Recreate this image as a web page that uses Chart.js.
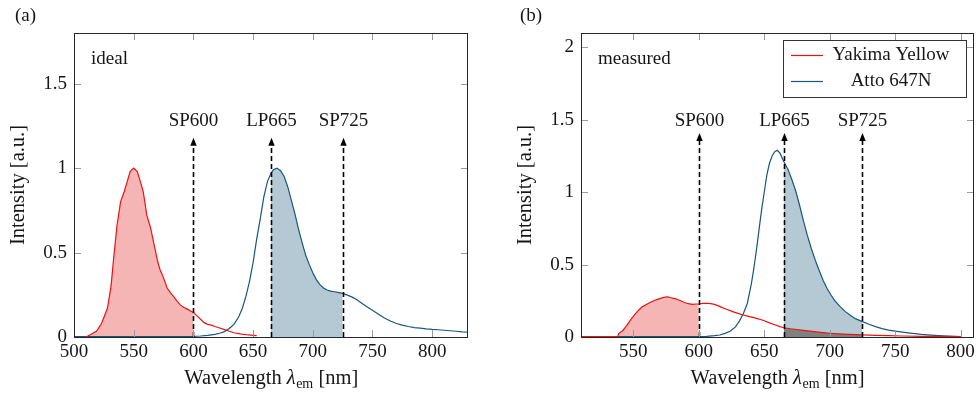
<!DOCTYPE html>
<html><head><meta charset="utf-8">
<script src="https://cdn.jsdelivr.net/npm/chart.js@4.4.1/dist/chart.umd.min.js"></script>
<style>
html,body{margin:0;padding:0;background:#fff;}
#wrap{position:relative;width:979px;height:396px;overflow:hidden;background:#fff;}
.box{position:absolute;top:0;height:396px;}
#boxA{left:0;width:490px;}
#boxB{left:490px;width:489px;}
</style></head><body>
<div id="wrap">
<div class="box" id="boxA"><canvas id="cA" width="490" height="396"></canvas></div>
<div class="box" id="boxB"><canvas id="cB" width="489" height="396"></canvas></div>
</div>
<script>
// ---------------- data ----------------
const seriesNames = ['Yakima Yellow', 'Atto 647N'];
const panelLabels = ['(a)', '(b)'];
const panelTitles = ['ideal', 'measured'];
const filterNames = ['SP600', 'LP665', 'SP725'];
const filterWl = [600, 665, 725];

// (a) ideal spectra
const idealYellowWl = [510,514,519,523,525,528,531,533,536,539,542,545,547,550,553,556,558,561,564,567,570,572,575,578,581,584,586,589,592,595,598,600,603,606,609,612,615,618,622,626,630,634,638,642,646,650,653];
const idealYellowI  = [0.0,0.015,0.035,0.08,0.115,0.17,0.3,0.45,0.66,0.8,0.86,0.93,0.98,1.0,0.98,0.91,0.86,0.72,0.65,0.55,0.45,0.4,0.35,0.29,0.26,0.235,0.215,0.19,0.175,0.165,0.152,0.145,0.125,0.105,0.085,0.075,0.07,0.062,0.053,0.044,0.034,0.025,0.02,0.015,0.012,0.01,0.008];
const idealAttoWl = [500,540,580,600,606,612,618,622,626,630,634,638,641,644,647,650,653,656,659,662,665,667,670,673,676,679,682,685,688,691,694,697,700,703,706,709,712,715,718,721,725,729,733,737,741,745,750,755,760,765,770,775,780,785,790,795,800,805,810,815,820,825,830];
const idealAttoI  = [0.003,0.003,0.003,0.004,0.006,0.01,0.016,0.022,0.032,0.05,0.075,0.12,0.17,0.24,0.33,0.44,0.58,0.7,0.83,0.92,0.97,0.99,1.0,0.985,0.95,0.89,0.81,0.73,0.64,0.56,0.485,0.43,0.38,0.34,0.31,0.29,0.278,0.272,0.268,0.264,0.258,0.248,0.236,0.22,0.2,0.18,0.158,0.135,0.112,0.095,0.08,0.07,0.062,0.056,0.052,0.048,0.045,0.043,0.04,0.037,0.034,0.03,0.028];

// (b) measured spectra
const measYellowWl = [510,530,538,539,542,545,548,551,554,557,560,563,566,569,572,575,577,580,583,586,589,592,595,598,600,603,606,609,612,615,618,621,624,627,630,634,638,642,646,650,654,658,662,665,670,675,680,685,690,695,700,710,720,725,735,745,755,770,785,800];
const measYellowI  = [0.003,0.003,0.004,0.025,0.045,0.08,0.12,0.155,0.185,0.21,0.225,0.24,0.252,0.262,0.27,0.278,0.276,0.268,0.262,0.25,0.238,0.23,0.226,0.228,0.228,0.232,0.233,0.23,0.225,0.215,0.203,0.192,0.182,0.172,0.163,0.152,0.143,0.134,0.124,0.112,0.098,0.085,0.072,0.064,0.057,0.052,0.046,0.04,0.035,0.03,0.026,0.02,0.016,0.014,0.011,0.009,0.007,0.005,0.004,0.003];
const measAttoWl = [510,560,590,600,606,612,616,620,624,628,631,634,637,640,642,644,646,648,650,652,654,656,658,660,662,665,668,671,674,677,680,683,686,689,692,695,698,701,704,708,712,716,720,725,730,735,740,745,750,760,770,780,790,800];
const measAttoI  = [0.002,0.002,0.002,0.003,0.005,0.009,0.014,0.025,0.04,0.07,0.11,0.16,0.23,0.36,0.47,0.6,0.74,0.88,1.0,1.12,1.2,1.25,1.28,1.29,1.27,1.21,1.16,1.09,1.01,0.91,0.8,0.7,0.61,0.53,0.46,0.39,0.335,0.29,0.25,0.21,0.175,0.148,0.125,0.106,0.088,0.072,0.058,0.048,0.04,0.028,0.018,0.011,0.006,0.003];

// tick labels
const xTicksA = [500,550,600,650,700,750,800];
const yTicksA = [0,0.5,1,1.5];
const xTicksB = [550,600,650,700,750,800];
const yTicksB = [0,0.5,1,1.5,2];

// ---------------- style ----------------
const FONT = '"Liberation Serif", "Times New Roman", serif';
const FS = 19;
const FT = 20.5;
const TXT = '#161616';
const RED = '#ee1111';
const BLUE = '#17577e';
const RED_FILL = 'rgba(232,60,60,0.38)';
const BLUE_FILL = '#b4c9d4';
const GREY_FILL = '#808080';

Chart.defaults.font.family = FONT;
Chart.defaults.font.size = FS;
Chart.defaults.color = TXT;

function pts(wl, v) { return wl.map((w, i) => ({x: w, y: v[i]})); }
function seg(wl, v, lo, hi) { return pts(wl, v).filter(p => p.x >= lo && p.x <= hi); }

function lineDs(label, data, color, order) {
  return {label, data, borderColor: color, borderWidth: 1.2, pointRadius: 0, fill: false, tension: 0, order};
}
function fillDs(data, color, order) {
  return {label: '', data, borderColor: 'rgba(0,0,0,0)', borderWidth: 0, backgroundColor: color, pointRadius: 0, fill: 'origin', tension: 0, order};
}

const decor = {
  id: 'decor',
  afterDatasetsDraw(chart, args, o) {
    const ctx = chart.ctx, a = chart.chartArea, x = chart.scales.x, y = chart.scales.y;
    const L = Math.round(a.left), R = Math.round(a.right), T = Math.round(a.top), B = Math.round(a.bottom);
    ctx.save();
    // arrows (filters)
    const y0 = y.getPixelForValue(0);
    const tip = y.getPixelForValue(o.arrowTop);
    const ly = y.getPixelForValue(o.labelY);
    o.filterWl.forEach((w, i) => {
      const px = Math.round(x.getPixelForValue(w)) + 0.5;
      ctx.strokeStyle = '#000'; ctx.lineWidth = 1.6;
      ctx.setLineDash([5, 3]);
      ctx.beginPath(); ctx.moveTo(px, y0); ctx.lineTo(px, tip + 6); ctx.stroke();
      ctx.setLineDash([]);
      ctx.fillStyle = '#000';
      ctx.beginPath(); ctx.moveTo(px, tip); ctx.lineTo(px - 3.2, tip + 8); ctx.lineTo(px + 3.2, tip + 8); ctx.closePath(); ctx.fill();
      ctx.fillStyle = TXT; ctx.font = FS + 'px ' + FONT; ctx.textAlign = 'center'; ctx.textBaseline = 'middle';
      ctx.fillText(o.filterNames[i], px, ly);
    });
    // inward ticks on all four sides
    ctx.strokeStyle = '#9b9b9b'; ctx.lineWidth = 1;
    ctx.beginPath();
    x.ticks.forEach(t => {
      const px = Math.round(x.getPixelForValue(t.value)) + 0.5;
      ctx.moveTo(px, B); ctx.lineTo(px, B - 7);
      ctx.moveTo(px, T); ctx.lineTo(px, T + 7);
    });
    y.ticks.forEach(t => {
      const py = Math.round(y.getPixelForValue(t.value)) + 0.5;
      ctx.moveTo(L, py); ctx.lineTo(L + 7, py);
      ctx.moveTo(R, py); ctx.lineTo(R - 7, py);
    });
    ctx.stroke();
    // frame
    ctx.strokeStyle = '#262626'; ctx.lineWidth = 1;
    ctx.strokeRect(L + 0.5, T + 0.5, R - L - 1, B - T);
    // panel title inside
    ctx.fillStyle = TXT; ctx.font = FS + 'px ' + FONT; ctx.textAlign = 'left'; ctx.textBaseline = 'middle';
    ctx.fillText(o.title, L + 17, T + 26);
    // legend
    if (o.legend) {
      const bw = 183, bh = 57;
      const bx = R - 8 - bw, by = T + 7;
      ctx.fillStyle = '#fff'; ctx.fillRect(bx, by, bw, bh);
      ctx.strokeStyle = '#333'; ctx.lineWidth = 1;
      ctx.strokeRect(Math.round(bx) + 0.5, Math.round(by) + 0.5, bw, bh);
      const rows = [by + 15, by + 41];
      const lines = chart.data.datasets.filter(d => d.label);
      lines.forEach((d, i) => {
        ctx.strokeStyle = d.borderColor; ctx.lineWidth = 1.2;
        ctx.beginPath(); ctx.moveTo(bx + 8, rows[i] + 0.5); ctx.lineTo(bx + 40, rows[i] + 0.5); ctx.stroke();
        ctx.fillStyle = TXT; ctx.textAlign = 'center'; ctx.textBaseline = 'middle';
        ctx.fillText(d.label, bx + 108, rows[i]);
      });
    }
    ctx.restore();
  },
  afterDraw(chart, args, o) {
    const ctx = chart.ctx, a = chart.chartArea;
    ctx.save();
    ctx.fillStyle = TXT; ctx.textBaseline = 'middle'; ctx.textAlign = 'left';
    ctx.font = FS + 'px ' + FONT;
    ctx.fillText(o.panel, o.panelX, 16);
    // x-axis title with subscript
    const p1 = 'Wavelength ', p2 = 'λ', p3 = 'em', p4 = ' [nm]';
    const fN = FT + 'px ' + FONT, fI = 'italic ' + FT + 'px ' + FONT, fS = '14px ' + FONT;
    ctx.font = fN; const w1 = ctx.measureText(p1).width, w4 = ctx.measureText(p4).width;
    ctx.font = fI; const w2 = ctx.measureText(p2).width;
    ctx.font = fS; const w3 = ctx.measureText(p3).width;
    let cx = (a.left + a.right) / 2 - (w1 + w2 + w3 + w4) / 2;
    const base = 384;
    ctx.textBaseline = 'alphabetic';
    ctx.font = fN; ctx.fillText(p1, cx, base); cx += w1;
    ctx.font = fI; ctx.fillText(p2, cx, base); cx += w2 + 0.5;
    ctx.font = fS; ctx.fillText(p3, cx, base + 4); cx += w3;
    ctx.font = fN; ctx.fillText(p4, cx, base);
    ctx.restore();
  }
};

function makeChart(id, cfg) {
  return new Chart(document.getElementById(id), {
    type: 'line',
    data: {datasets: cfg.datasets},
    plugins: [decor],
    options: {
      responsive: false, animation: false, events: [],
      layout: {padding: {left: cfg.padLeft, right: cfg.padRight, top: 33, bottom: 0}},
      plugins: {
        legend: {display: false}, tooltip: {enabled: false},
        decor: cfg.decor
      },
      scales: {
        x: {
          type: 'linear', min: cfg.xMin, max: cfg.xMax,
          afterBuildTicks: s => { s.ticks = cfg.xTicks.map(v => ({value: v})); },
          afterFit: s => { s.height = 59; },
          grid: {display: false, drawTicks: false},
          border: {display: false},
          ticks: {padding: 4, maxRotation: 0, autoSkip: false, callback: v => String(v), color: TXT, font: {size: FS}},
          title: {display: false}
        },
        y: {
          type: 'linear', min: cfg.yMin, max: cfg.yMax,
          afterBuildTicks: s => { s.ticks = cfg.yTicks.map(v => ({value: v})); },
          afterFit: s => { s.width = 74; },
          grid: {display: false, drawTicks: false},
          border: {display: false},
          ticks: {padding: 7, autoSkip: false, callback: v => String(v), color: TXT, font: {size: FS}},
          title: {display: true, text: 'Intensity [a.u.]', color: TXT, font: {size: FT}, padding: {top: 6, bottom: 0}}
        }
      }
    }
  });
}

makeChart('cA', {
  padLeft: 0, padRight: 22,
  xMin: 500, xMax: 830, yMin: 0, yMax: 1.8,
  xTicks: xTicksA, yTicks: yTicksA,
  datasets: [
    lineDs(seriesNames[0], pts(idealYellowWl, idealYellowI), RED, 1),
    lineDs(seriesNames[1], pts(idealAttoWl, idealAttoI), BLUE, 2),
    fillDs(seg(idealYellowWl, idealYellowI, 500, filterWl[0]), RED_FILL, 5),
    fillDs(seg(idealAttoWl, idealAttoI, filterWl[1], filterWl[2]), BLUE_FILL, 4)
  ],
  decor: {panel: panelLabels[0], panelX: 15, title: panelTitles[0], legend: false,
          filterWl, filterNames, arrowTop: 1.18, labelY: 1.28}
});

makeChart('cB', {
  padLeft: 17, padRight: 5,
  xMin: 510, xMax: 810, yMin: 0, yMax: 2.1,
  xTicks: xTicksB, yTicks: yTicksB,
  datasets: [
    lineDs(seriesNames[0], pts(measYellowWl, measYellowI), RED, 1),
    lineDs(seriesNames[1], pts(measAttoWl, measAttoI), BLUE, 2),
    fillDs(seg(measYellowWl, measYellowI, filterWl[1], filterWl[2]), GREY_FILL, 3),
    fillDs(seg(measAttoWl, measAttoI, filterWl[1], filterWl[2]), BLUE_FILL, 4),
    fillDs(seg(measYellowWl, measYellowI, 500, filterWl[0]), RED_FILL, 5)
  ],
  decor: {panel: panelLabels[1], panelX: 30, title: panelTitles[1], legend: true,
          filterWl, filterNames, arrowTop: 1.41, labelY: 1.49}
});
</script>
</body></html>
